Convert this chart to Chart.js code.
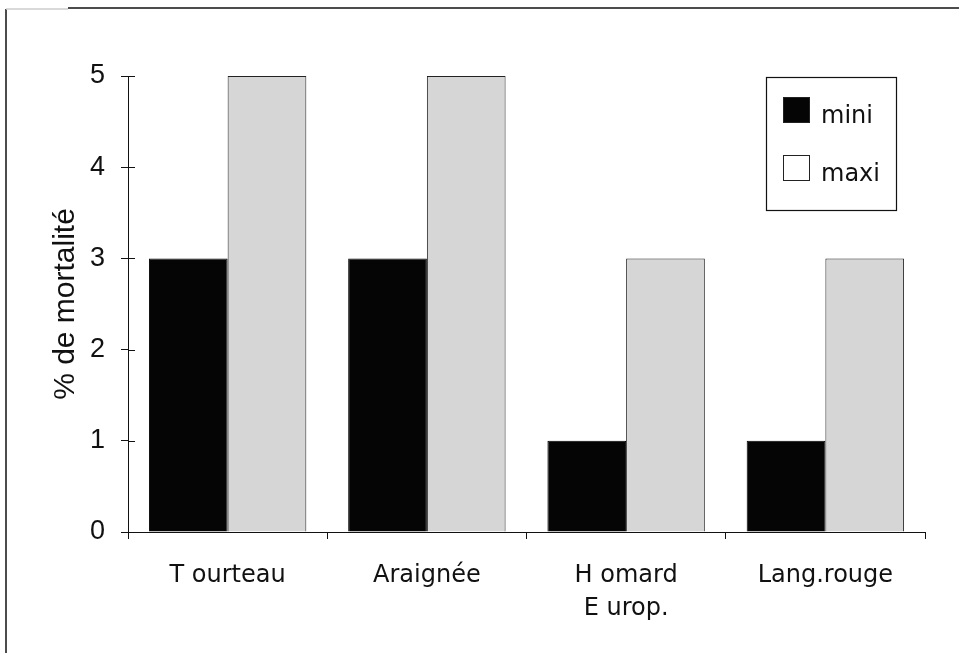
<!DOCTYPE html>
<html>
<head>
<meta charset="utf-8">
<script src="https://cdn.jsdelivr.net/npm/chart.js@4.4.1/dist/chart.umd.min.js"></script>
<style>
  html, body { margin: 0; padding: 0; background: #ffffff; }
  #wrap { width: 959px; height: 653px; position: relative; }
</style>
</head>
<body>
<div id="wrap"><canvas id="c" width="959" height="653"></canvas></div>
<script>
// Species and mortality rates (%)
const categories = ['T ourteau', 'Araignée', ['H omard', 'E urop.'], 'Lang.rouge'];
const miniValues = [3, 3, 1, 1];
const maxiValues = [5, 5, 3, 3];
const seriesNames = ['mini', 'maxi'];
const yTicks = [0, 1, 2, 3, 4, 5];

const labelFont = '"DejaVu Sans", Lato, sans-serif';
const numFont = '"Liberation Sans", Arial, sans-serif';

// Page frame: top rule and left rule
const framePlugin = {
  id: 'frame',
  beforeDraw(chart) {
    const ctx = chart.ctx;
    ctx.save();
    ctx.strokeStyle = '#111';
    ctx.lineWidth = 1.5;
    ctx.beginPath();
    ctx.moveTo(6, 653);
    ctx.lineTo(6, 9);
    ctx.stroke();
    ctx.beginPath();
    ctx.moveTo(68, 8);
    ctx.lineTo(959, 8);
    ctx.stroke();
    ctx.strokeStyle = '#cccccc';
    ctx.beginPath();
    ctx.moveTo(6, 9);
    ctx.lineTo(68, 9);
    ctx.stroke();
    ctx.restore();
  }
};

// Boxed legend in the upper right corner
const boxLegendPlugin = {
  id: 'boxLegend',
  afterDraw(chart) {
    const ctx = chart.ctx;
    const box = { x: 766, y: 77, w: 130, h: 133 };
    ctx.save();
    ctx.fillStyle = '#fff';
    ctx.fillRect(box.x, box.y, box.w, box.h);
    ctx.strokeStyle = '#111';
    ctx.lineWidth = 1.2;
    ctx.strokeRect(box.x + 0.5, box.y + 0.5, box.w, box.h);
    chart.data.datasets.forEach((ds, i) => {
      const sy = 97 + i * 58;
      ctx.fillStyle = i === 0 ? ds.backgroundColor : '#ffffff';
      ctx.fillRect(783, sy, 26, 25);
      ctx.strokeStyle = '#222';
      ctx.lineWidth = 1;
      ctx.strokeRect(783.5, sy + 0.5, 26, 25);
      ctx.fillStyle = '#111';
      ctx.font = '24px ' + labelFont;
      ctx.textBaseline = 'middle';
      ctx.textAlign = 'left';
      ctx.fillText(ds.label, 821, sy + 20);
    });
    ctx.restore();
  }
};

// Tick marks that cross the value axis
const crossTicksPlugin = {
  id: 'crossTicks',
  afterDraw(chart) {
    const ctx = chart.ctx;
    const y = chart.scales.y;
    const left = chart.chartArea.left;
    ctx.save();
    ctx.strokeStyle = '#111';
    ctx.lineWidth = 1;
    y.ticks.forEach(t => {
      const py = Math.round(y.getPixelForValue(t.value)) + 0.5;
      ctx.beginPath();
      ctx.moveTo(left, py);
      ctx.lineTo(left + 7, py);
      ctx.stroke();
    });
    ctx.restore();
  }
};

new Chart(document.getElementById('c'), {
  type: 'bar',
  data: {
    labels: categories,
    datasets: [
      {
        label: seriesNames[0],
        data: miniValues,
        backgroundColor: '#050505',
        borderColor: '#000000',
        borderWidth: 1,
        categoryPercentage: 0.79,
        barPercentage: 1.0
      },
      {
        label: seriesNames[1],
        data: maxiValues,
        backgroundColor: '#d6d6d6',
        borderColor: '#222222',
        borderWidth: 1,
        categoryPercentage: 0.79,
        barPercentage: 1.0
      }
    ]
  },
  options: {
    responsive: false,
    animation: false,
    events: [],
    layout: { padding: { left: 0, top: 76, right: 34, bottom: 0 } },
    plugins: {
      legend: { display: false },
      tooltip: { enabled: false },
      title: { display: false }
    },
    scales: {
      x: {
        afterFit(scale) { scale.height = 121; },
        grid: {
          display: true,
          offset: true,
          drawOnChartArea: false,
          drawTicks: true,
          tickLength: 7,
          color: '#111',
          lineWidth: 1
        },
        border: { display: true, color: '#111', width: 1 },
        ticks: {
          color: '#111',
          font: { family: labelFont, size: 24, lineHeight: 1.38 },
          padding: 20,
          maxRotation: 0,
          autoSkip: false
        }
      },
      y: {
        min: 0,
        max: 5,
        afterFit(scale) { scale.width = 128; },
        afterBuildTicks(scale) { scale.ticks = yTicks.map(v => ({ value: v })); },
        grid: {
          display: true,
          drawOnChartArea: false,
          drawTicks: true,
          tickLength: 7,
          color: '#111'
        },
        border: { display: true, color: '#111', width: 1 },
        title: {
          display: true,
          text: '% de mortalité',
          color: '#111',
          font: { family: numFont, size: 30, weight: '500' },
          padding: { top: 48, bottom: 0 }
        },
        ticks: {
          color: '#111',
          font: { family: numFont, size: 27 },
          padding: 16
        }
      }
    }
  },
  plugins: [framePlugin, crossTicksPlugin, boxLegendPlugin]
});
</script>
</body>
</html>
